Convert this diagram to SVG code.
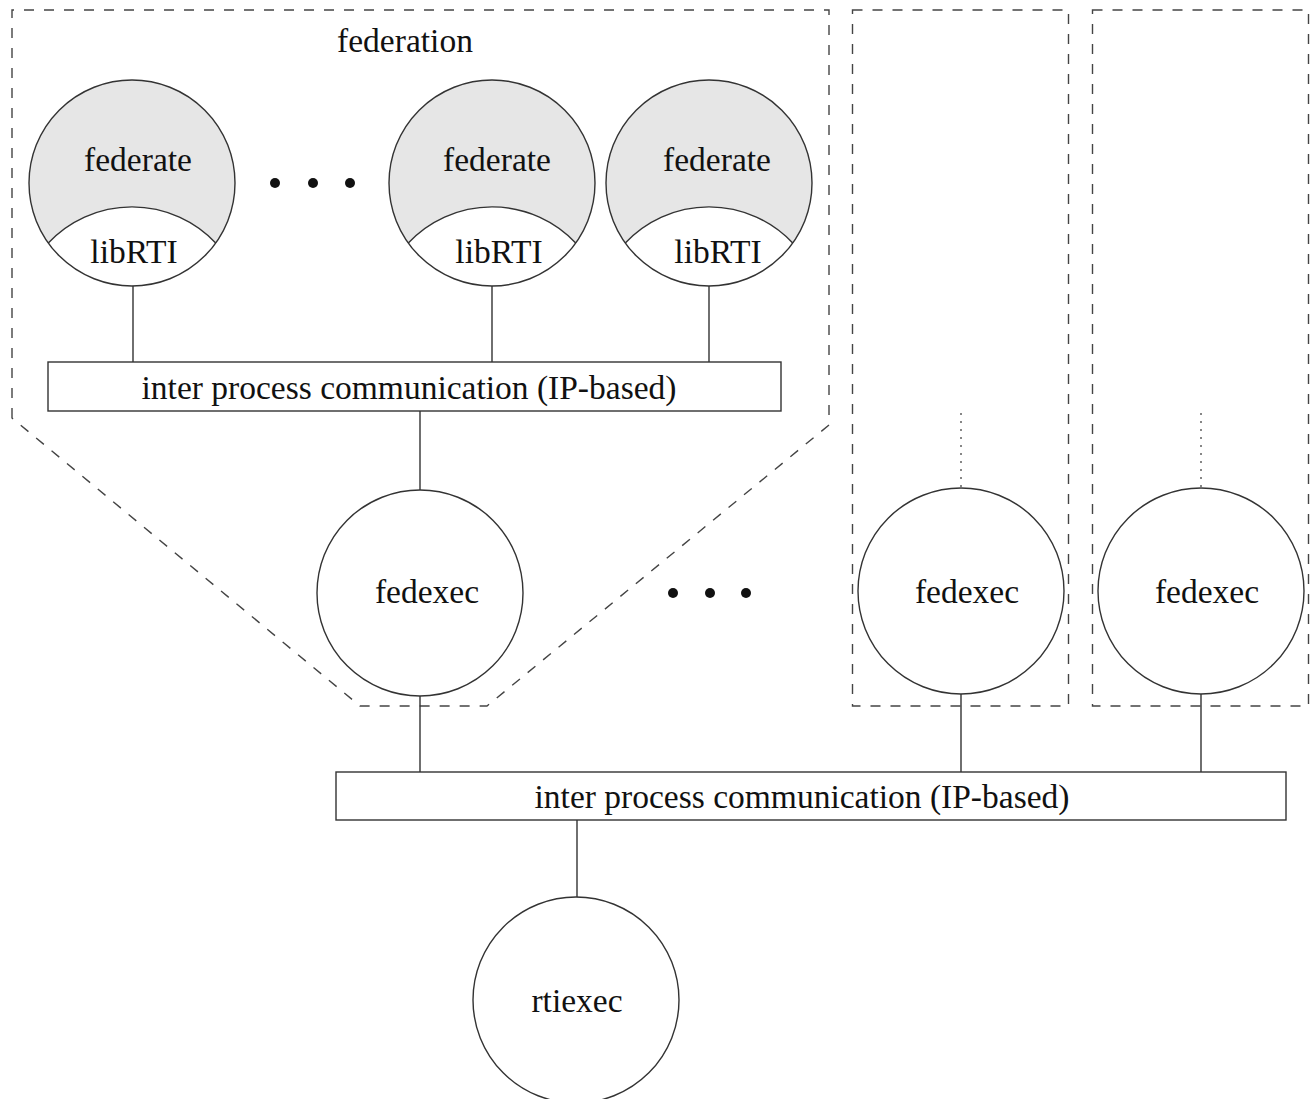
<svg xmlns="http://www.w3.org/2000/svg" width="1312" height="1099" viewBox="0 0 1312 1099">
  <style>
    .ln { stroke: #333; stroke-width: 1.4; fill: none; }
    .dash { stroke: #444; stroke-width: 1.4; fill: none; stroke-dasharray: 10 10; }
    .dot { stroke: #555; stroke-width: 1.4; fill: none; stroke-dasharray: 2 6; }
    .node { fill: #fff; stroke: #333; stroke-width: 1.4; }
    .t { font-family: "Liberation Serif", "Times New Roman", serif; font-size: 33.5px; fill: #111; text-anchor: middle; }
    .bullet { fill: #111; }
  </style>
  <defs>
    <g id="federate-shape">
      <circle r="103" fill="#e6e6e6"/>
      <path d="M -83.7 60 A 115 115 0 0 1 83.7 60 A 103 103 0 0 1 -83.7 60 Z" fill="#fff"/>
      <path d="M -83.7 60 A 115 115 0 0 1 83.7 60" class="ln"/>
      <circle r="103" class="ln"/>
    </g>
  </defs>

  <rect width="1312" height="1099" fill="#fff"/>

  <!-- host boundaries -->
  <g id="boundaries">
    <path class="dash" d="M 12 418 L 12 10 L 829 10 L 829 425 L 487 706 L 360 706 Z"/>
    <rect class="dash" x="852.5" y="10" width="216" height="696"/>
    <rect class="dash" x="1092.5" y="10" width="216" height="696"/>
    <text class="t" x="405" y="52">federation</text>
  </g>

  <!-- connectors -->
  <g id="connectors">
    <line class="ln" x1="133" y1="286" x2="133" y2="362"/>
    <line class="ln" x1="492" y1="286" x2="492" y2="362"/>
    <line class="ln" x1="709" y1="286" x2="709" y2="362"/>
    <line class="ln" x1="420" y1="411" x2="420" y2="490"/>
    <line class="ln" x1="420" y1="696" x2="420" y2="772"/>
    <line class="ln" x1="961" y1="694" x2="961" y2="772"/>
    <line class="ln" x1="1201" y1="694" x2="1201" y2="772"/>
    <line class="ln" x1="577" y1="820" x2="577" y2="897"/>
    <line class="dot" x1="961" y1="413" x2="961" y2="488"/>
    <line class="dot" x1="1201" y1="413" x2="1201" y2="488"/>
  </g>

  <!-- federates -->
  <g id="federate1" transform="translate(132,183)">
    <use href="#federate-shape"/>
    <text class="t" x="6" y="-12">federate</text>
    <text class="t" x="2" y="80">libRTI</text>
  </g>
  <g id="federate2" transform="translate(492,183)">
    <use href="#federate-shape"/>
    <text class="t" x="5" y="-12">federate</text>
    <text class="t" x="7" y="80">libRTI</text>
  </g>
  <g id="federate3" transform="translate(709,183)">
    <use href="#federate-shape"/>
    <text class="t" x="8" y="-12">federate</text>
    <text class="t" x="9" y="80">libRTI</text>
  </g>

  <g id="ellipsis-top" class="bullet">
    <circle cx="275" cy="183" r="5"/>
    <circle cx="313" cy="183" r="5"/>
    <circle cx="350" cy="183" r="5"/>
  </g>

  <g id="ipc-local">
    <rect class="node" x="48" y="362" width="733" height="49"/>
    <text class="t" x="409" y="399">inter process communication (IP-based)</text>
  </g>

  <g id="fedexec1">
    <circle class="node" cx="420" cy="593" r="103"/>
    <text class="t" x="427" y="603">fedexec</text>
  </g>

  <g id="ellipsis-mid" class="bullet">
    <circle cx="673" cy="593" r="5"/>
    <circle cx="710" cy="593" r="5"/>
    <circle cx="746" cy="593" r="5"/>
  </g>

  <g id="fedexec2">
    <circle class="node" cx="961" cy="591" r="103"/>
    <text class="t" x="967" y="603">fedexec</text>
  </g>

  <g id="fedexec3">
    <circle class="node" cx="1201" cy="591" r="103"/>
    <text class="t" x="1207" y="603">fedexec</text>
  </g>

  <g id="ipc-global">
    <rect class="node" x="336" y="772" width="950" height="48"/>
    <text class="t" x="802" y="808">inter process communication (IP-based)</text>
  </g>

  <g id="rtiexec">
    <circle class="node" cx="576" cy="1000" r="103"/>
    <text class="t" x="577" y="1012">rtiexec</text>
  </g>
</svg>
